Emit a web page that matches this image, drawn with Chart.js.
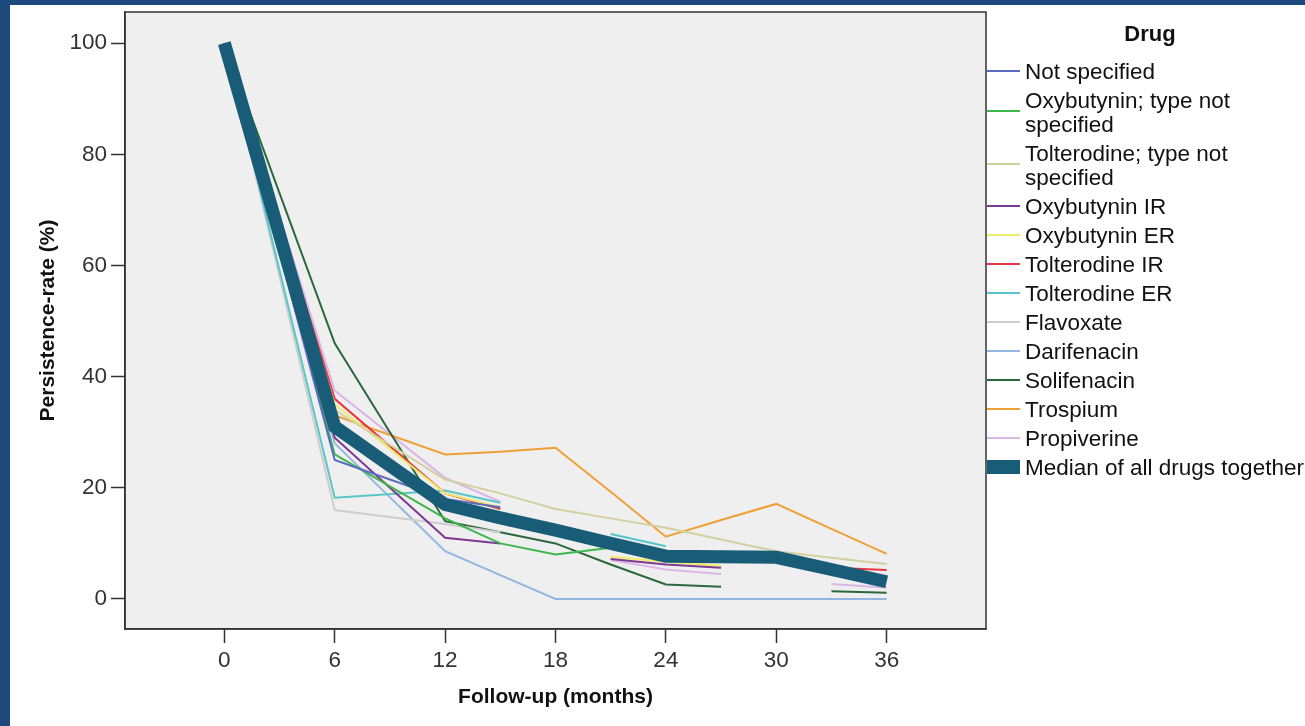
<!DOCTYPE html>
<html>
<head>
<meta charset="utf-8">
<title>Persistence-rate by drug</title>
<script src="https://cdn.jsdelivr.net/npm/chart.js@4.4.1/dist/chart.umd.min.js"></script>
<style>
  html, body { margin: 0; padding: 0; background: #fff; }
  canvas { display: block; }
</style>
</head>
<body>
<canvas id="myChart" width="1305" height="726"></canvas>
<script>
// follow-up time points (months); null = no value, line breaks there
var months = [0, 6, 12, 15, 18, 21, 24, 27, 30, 33, 36];
var xTicks = [0, 6, 12, 18, 24, 30, 36];
var yTicks = [0, 20, 40, 60, 80, 100];

var notSpecified  = [100, 25,   18,   16.5, null, null, null, null, null, null, null];
var oxybutyninNS  = [100, 26,   14.5, 10,   8,    9.2,  null, null, null, null, null];
var tolterodineNS = [100, 34,   21.5, 19,   16.2, 14.5, 12.8, 10.7, 8.6,  7.4,  6.3];
var oxybutyninIR  = [100, 29,   11,   10,   null, 7.2,  6.2,  5.6,  null, null, null];
var oxybutyninER  = [100, 35,   19,   16.5, null, 7.6,  6.7,  6.0,  null, null, null];
var tolterodineIR = [100, 36,   19,   16.2, null, null, null, null, null, 5.6,  5.2];
var tolterodineER = [100, 18.2, 19.5, 17.3, null, 11.7, 9.5,  null, null, null, null];
var flavoxate     = [100, 16,   13.5, 12,   null, null, null, null, null, null, null];
var darifenacin   = [100, 28,   8.6,  4.3,  0,    0,    0,    0,    0,    0,    0];
var solifenacin   = [100, 46,   14,   12,   10,   6.2,  2.6,  2.2,  null, 1.4,  1.1];
var trospium      = [100, 33,   26,   26.5, 27.2, 19.3, 11.2, 14.2, 17.1, 12.6, 8.1];
var propiverine   = [100, 37.5, 21.8, 17.5, null, 7,    5.3,  4.5,  null, 2.7,  2];
var medianAll     = [100, 31,   17,   14.6, 12.4, 10,   7.7,  7.6,  7.5,  5.3,  3.1];

var drugNames = [
  'Not specified', 'Oxybutynin; type not\nspecified', 'Tolterodine; type not\nspecified',
  'Oxybutynin IR', 'Oxybutynin ER', 'Tolterodine IR', 'Tolterodine ER', 'Flavoxate',
  'Darifenacin', 'Solifenacin', 'Trospium', 'Propiverine', 'Median of all drugs together'
];
var drugValues = [
  notSpecified, oxybutyninNS, tolterodineNS, oxybutyninIR, oxybutyninER, tolterodineIR,
  tolterodineER, flavoxate, darifenacin, solifenacin, trospium, propiverine, medianAll
];
var drugColors = [
  '#5a6cc0', '#3db64c', '#d3d0a0', '#7d3a92', '#f0ec6a', '#e6373f',
  '#58c6c8', '#cdcdcd', '#93b6e0', '#2b683d', '#efa035', '#dcb6e6', '#195c78'
];

var FONT = '"Liberation Sans", Arial, sans-serif';

function toPoints(values) {
  return values.map(function(v, i) { return { x: months[i], y: v }; });
}

var datasets = drugNames.map(function(name, i) {
  var isMedian = i === drugNames.length - 1;
  return {
    label: name,
    data: toPoints(drugValues[i]),
    borderColor: drugColors[i],
    backgroundColor: drugColors[i],
    borderWidth: isMedian ? 13 : 2,
    borderCapStyle: 'butt',
    borderJoinStyle: 'miter',
    pointRadius: 0,
    tension: 0,
    spanGaps: false,
    order: isMedian ? -1 : 1
  };
});

// grey plot background, frame, outer navy edge
var plotFrame = {
  id: 'plotFrame',
  beforeDraw: function(chart) {
    var ctx = chart.ctx, a = chart.chartArea;
    ctx.save();
    ctx.fillStyle = '#fff';
    ctx.fillRect(0, 0, chart.width, chart.height);
    ctx.fillStyle = '#1d4a7c';
    ctx.fillRect(0, 0, chart.width, 5);
    ctx.fillRect(0, 0, 10, chart.height);
    ctx.fillStyle = '#efefef';
    ctx.fillRect(a.left, a.top, a.right - a.left, a.bottom - a.top);
    ctx.restore();
  },
  afterDraw: function(chart) {
    var ctx = chart.ctx, a = chart.chartArea;
    ctx.save();
    ctx.strokeStyle = '#333';
    ctx.lineWidth = 1.5;
    ctx.strokeRect(a.left, a.top, a.right - a.left, a.bottom - a.top);
    ctx.restore();
  }
};

// legend on the right, line sample touching the plot frame
var drugLegend = {
  id: 'drugLegend',
  afterDraw: function(chart) {
    var ctx = chart.ctx;
    var x0 = chart.chartArea.right + 1;
    ctx.save();
    ctx.fillStyle = '#111';
    ctx.textBaseline = 'middle';
    ctx.textAlign = 'center';
    ctx.font = 'bold 22px ' + FONT;
    ctx.fillText('Drug', 1150, 35);
    ctx.textAlign = 'left';
    ctx.font = '22.5px ' + FONT;
    var y = 73;
    chart.data.datasets.forEach(function(ds) {
      var lines = ds.label.split('\n');
      var lineY = lines.length > 1 ? y + (lines.length - 1) * 12 - 3 : y - 2;
      ctx.strokeStyle = ds.borderColor;
      ctx.lineWidth = ds.borderWidth > 2 ? 14 : 2;
      ctx.beginPath();
      ctx.moveTo(x0, lineY);
      ctx.lineTo(1020, lineY);
      ctx.stroke();
      ctx.fillStyle = '#111';
      lines.forEach(function(t, k) { ctx.fillText(t, 1025, y + k * 24); });
      y += (lines.length - 1) * 24 + 29;
    });
    ctx.restore();
  }
};

var config = {
  type: 'line',
  data: { datasets: datasets },
  options: {
    responsive: false,
    animation: false,
    layout: { padding: { left: 0, top: 12, right: 319, bottom: 0 } },
    plugins: { legend: { display: false }, tooltip: { enabled: false } },
    scales: {
      x: {
        type: 'linear',
        min: -5.4,
        max: 41.4,
        afterBuildTicks: function(scale) {
          scale.ticks = xTicks.map(function(v) { return { value: v }; });
        },
        afterFit: function(scale) {
          scale.height = 97;
          scale.paddingLeft = 0;
          scale.paddingRight = 0;
        },
        ticks: { color: '#333', font: { family: FONT, size: 22.5 }, padding: 4, autoSkip: false, maxRotation: 0 },
        grid: { drawOnChartArea: false, drawTicks: true, tickLength: 14, tickColor: '#333', tickWidth: 1.5 },
        border: { display: true, color: '#333', width: 1.5 },
        title: {
          display: true, text: 'Follow-up (months)', color: '#111',
          font: { family: FONT, size: 21, weight: 'bold' },
          padding: { top: 0, bottom: 16 }
        }
      },
      y: {
        type: 'linear',
        min: -5.4,
        max: 105.6,
        afterBuildTicks: function(scale) {
          scale.ticks = yTicks.map(function(v) { return { value: v }; });
        },
        afterFit: function(scale) {
          scale.width = 125;
          scale.paddingTop = 0;
          scale.paddingBottom = 0;
        },
        ticks: { color: '#333', font: { family: FONT, size: 22.5 }, padding: 4 },
        grid: { drawOnChartArea: false, drawTicks: true, tickLength: 14, tickColor: '#333', tickWidth: 1.5 },
        border: { display: true, color: '#333', width: 1.5 },
        title: {
          display: true, text: 'Persistence-rate (%)', color: '#111',
          font: { family: FONT, size: 21, weight: 'bold' },
          padding: { top: 36, bottom: 0 }
        }
      }
    }
  },
  plugins: [plotFrame, drugLegend]
};

var myChart = new Chart(document.getElementById('myChart'), config);
</script>
</body>
</html>
